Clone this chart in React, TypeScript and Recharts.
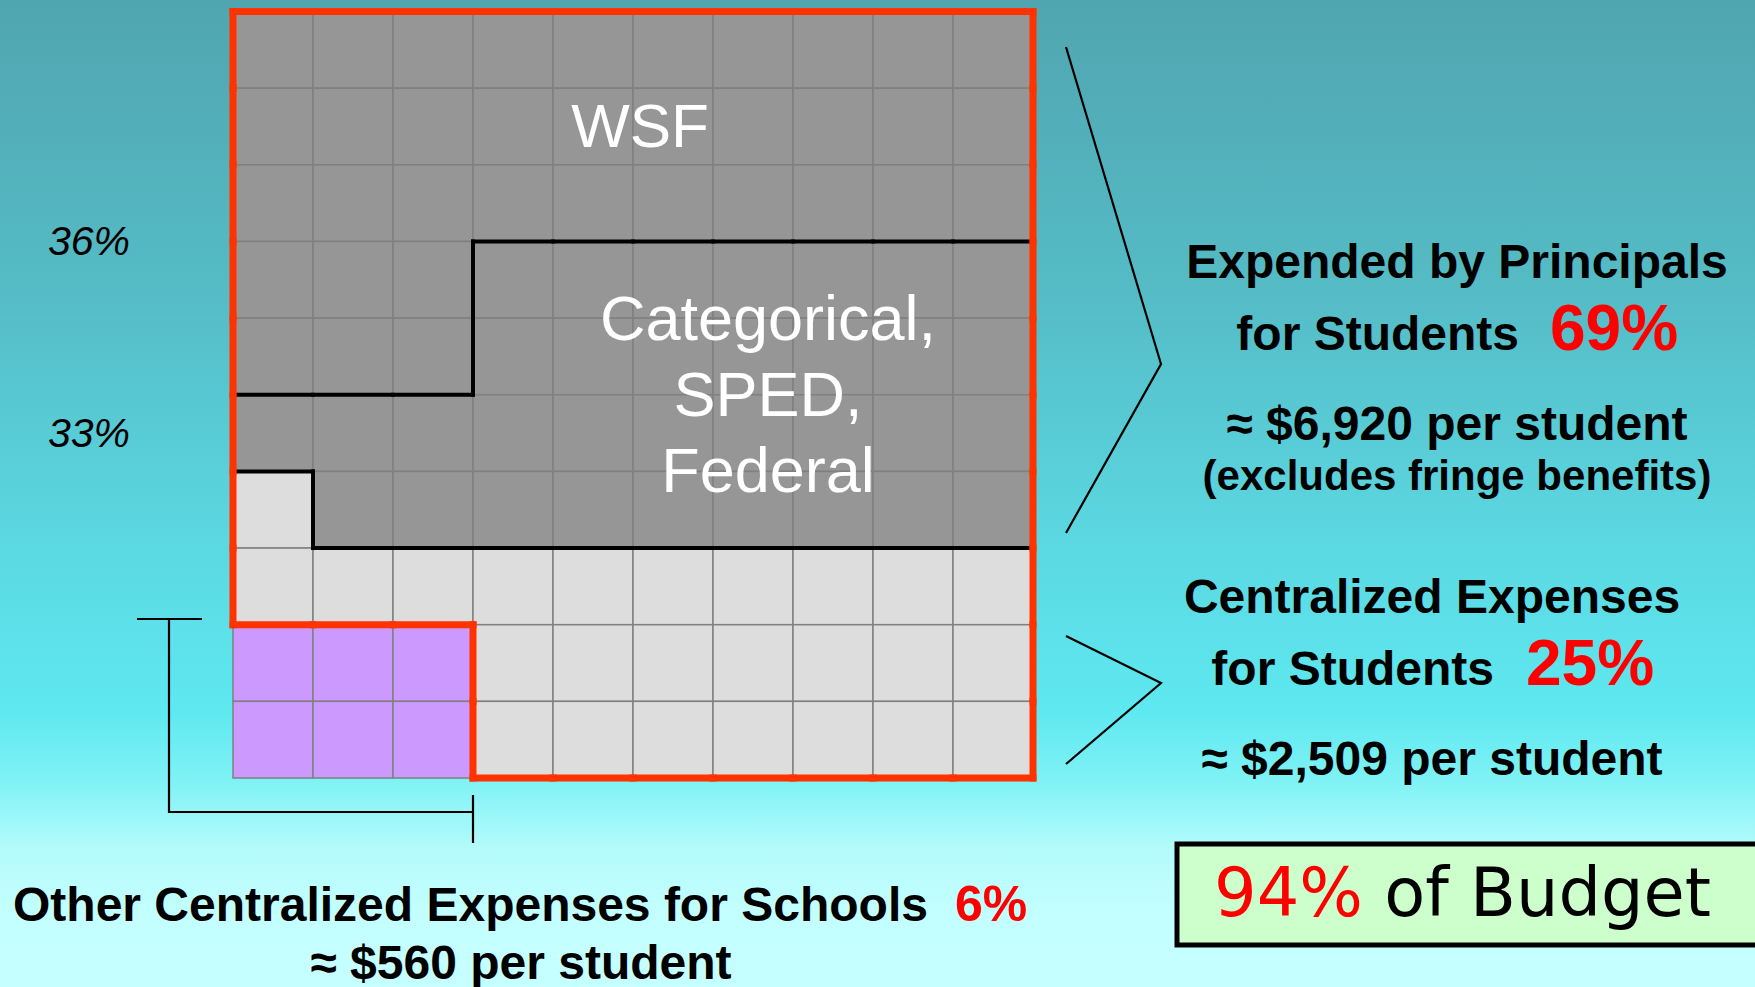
import { ScatterChart, Scatter, XAxis, YAxis, ReferenceLine } from "recharts"

const W = 1755
const H = 987

// groups of the 100-cell grid (each cell = 1% of budget)
const categoryKeys = ["A", "B", "C", "D"]
const categories = [
  "WSF",
  "Categorical, SPED, Federal",
  "Centralized Expenses for Students",
  "Other Centralized Expenses for Schools",
]
const shares = [36, 33, 25, 6]
const colors = ["#969696", "#969696", "#dddddd", "#cc99ff"]

// grid read row by row from the top, one letter per cell
const gridRows = [
  "AAAAAAAAAA",
  "AAAAAAAAAA",
  "AAAAAAAAAA",
  "AAABBBBBBB",
  "AAABBBBBBB",
  "BBBBBBBBBB",
  "CBBBBBBBBB",
  "CCCCCCCCCC",
  "DDDCCCCCCC",
  "DDDCCCCCCC",
]

const margin = { top: 11.5, right: 722, bottom: 209, left: 233 }
const cellW = (W - margin.left - margin.right) / 10
const cellH = (H - margin.top - margin.bottom) / 10

const font = "'Liberation Sans', Arial, sans-serif"

// cells of each group, placed at their centres
const seriesData = categoryKeys.map((k) => {
  const pts: { x: number; y: number; group: string }[] = []
  gridRows.forEach((row, r) => {
    row.split("").forEach((g, c) => {
      if (g === k) pts.push({ x: c + 0.5, y: r + 0.5, group: k })
    })
  })
  return pts
})

const cellAt = (r: number, c: number) =>
  r < 0 || r > 9 || c < 0 || c > 9 ? undefined : gridRows[r][c]
const inBudget = (g?: string) => g !== undefined && g !== "D"
const isSplit = (a?: string, b?: string) =>
  (a === "A" && b === "B") || (a === "B" && b === "A") || (a === "B" && b === "C") || (a === "C" && b === "B")

// borders between groups: black between principal groups, red round the 94%
type Seg = { x1: number; y1: number; x2: number; y2: number }
const blackEdges: Seg[] = []
const redEdges: Seg[] = []
for (let r = 0; r < 10; r++) {
  for (let x = 0; x <= 10; x++) {
    const a = cellAt(r, x - 1)
    const b = cellAt(r, x)
    const s = { x1: x, y1: r, x2: x, y2: r + 1 }
    if (inBudget(a) !== inBudget(b)) redEdges.push(s)
    else if (isSplit(a, b)) blackEdges.push(s)
  }
}
for (let c = 0; c < 10; c++) {
  for (let y = 0; y <= 10; y++) {
    const a = cellAt(y - 1, c)
    const b = cellAt(y, c)
    const s = { x1: c, y1: y, x2: c + 1, y2: y }
    if (inBudget(a) !== inBudget(b)) redEdges.push(s)
    else if (isSplit(a, b)) blackEdges.push(s)
  }
}

const CellShape = (p: any) => (
  <rect
    x={p.cx - cellW / 2}
    y={p.cy - cellH / 2}
    width={cellW}
    height={cellH}
    fill={p.fill}
    stroke="#808080"
    strokeWidth={1.5}
  />
)

export default function App() {
  return (
    <div
      style={{
        position: "absolute",
        left: 0,
        top: 0,
        width: W,
        height: H,
        overflow: "hidden",
        background:
          "linear-gradient(180deg, #50a5b0 0%, #55bcc6 30%, #5bd8e2 55%, #5ee8f0 72%, #7ef2f5 79%, #b4fbfb 86%, #c4ffff 93%, #c6ffff 100%)",
      }}
    >
      <div style={{ position: "absolute", left: 0, top: 0 }}>
        <ScatterChart width={W} height={H} margin={margin}>
          <XAxis type="number" dataKey="x" domain={[0, 10]} hide />
          <YAxis type="number" dataKey="y" domain={[0, 10]} reversed hide />
          {seriesData.map((d, i) => (
            <Scatter
              key={categoryKeys[i]}
              name={`${categories[i]} ${shares[i]}%`}
              data={d}
              fill={colors[i]}
              shape={CellShape}
              isAnimationActive={false}
            />
          ))}
          {blackEdges.map((s, i) => (
            <ReferenceLine
              key={"b" + i}
              segment={[{ x: s.x1, y: s.y1 }, { x: s.x2, y: s.y2 }]}
              stroke="#000000"
              strokeWidth={4}
              strokeLinecap="square"
              ifOverflow="visible"
              zIndex={700}
            />
          ))}
          {redEdges.map((s, i) => (
            <ReferenceLine
              key={"r" + i}
              segment={[{ x: s.x1, y: s.y1 }, { x: s.x2, y: s.y2 }]}
              stroke="#ff3300"
              strokeWidth={7}
              strokeLinecap="square"
              ifOverflow="visible"
              zIndex={800}
            />
          ))}
        </ScatterChart>
      </div>

      <svg
        width={W}
        height={H}
        style={{ position: "absolute", left: 0, top: 0, pointerEvents: "none" }}
      >
        {/* labels inside the grid */}
        <g fontFamily={font} fill="#ffffff" textAnchor="middle">
          <text x={640} y={147} fontSize={62}>WSF</text>
          <text x={768} y={340} fontSize={63}>Categorical,</text>
          <text x={768} y={416} fontSize={63}>SPED,</text>
          <text x={768} y={492} fontSize={63}>Federal</text>
        </g>

        {/* left percentages */}
        <g fontFamily={font} fontStyle="italic" fontSize={41} fill="#000">
          <text x={48} y={255}>36%</text>
          <text x={48} y={447}>33%</text>
        </g>

        {/* brackets */}
        <g stroke="#000" strokeWidth={2.2} fill="none">
          <polyline points="1066,47 1161,364 1066,533" />
          <polyline points="1066,636 1161,683 1066,764" />
          <line x1={137} y1={619} x2={202} y2={619} />
          <polyline points="169,619 169,812 473,812" />
          <line x1={473} y1={795} x2={473} y2={843} />
        </g>

        {/* right text */}
        <g fontFamily={font} fontWeight="bold" fill="#000" fontSize={48}>
          <text x={1457} y={278} textAnchor="middle">Expended by Principals</text>
          <text x={1519} y={350} textAnchor="end">for Students</text>
          <text x={1550} y={350} fontSize={64} fill="#ff0000">69%</text>
          <text x={1457} y={440} textAnchor="middle">≈ $6,920 per student</text>
          <text x={1457} y={490} textAnchor="middle" fontSize={42}>(excludes fringe benefits)</text>

          <text x={1432} y={613} textAnchor="middle">Centralized Expenses</text>
          <text x={1494} y={685} textAnchor="end">for Students</text>
          <text x={1526} y={685} fontSize={64} fill="#ff0000">25%</text>
          <text x={1432} y={775} textAnchor="middle">≈ $2,509 per student</text>

          <text x={13} y={921}>Other Centralized Expenses for Schools</text>
          <text x={955} y={921} fontSize={50} fill="#ff0000">6%</text>
          <text x={521} y={979} textAnchor="middle">≈ $560 per student</text>
        </g>

        {/* total box */}
        <rect x={1177} y={844} width={600} height={101} fill="#ccffcc" stroke="#000" strokeWidth={5} />
        <text x={1214} y={916} fontFamily="'DejaVu Sans', sans-serif" fontSize={67}>
          <tspan fill="#ff0000">94%</tspan>
          <tspan fill="#000"> of Budget</tspan>
        </text>
      </svg>
    </div>
  )
}
